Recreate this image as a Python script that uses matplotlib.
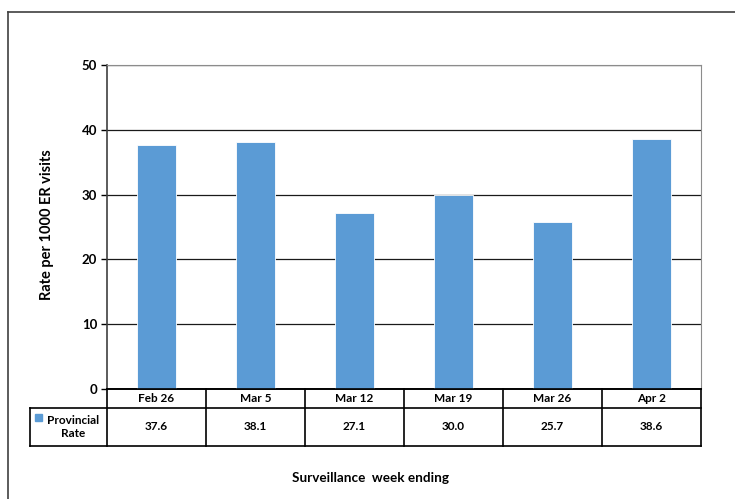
import matplotlib
matplotlib.use('Agg')
import matplotlib.pyplot as plt
from matplotlib.lines import Line2D
from matplotlib.patches import Rectangle

weeks = ['Feb 26', 'Mar 5', 'Mar 12', 'Mar 19', 'Mar 26', 'Apr 2']
rates = [37.6, 38.1, 27.1, 30.0, 25.7, 38.6]
series_name = 'Provincial\nRate'

BAR = '#5B9BD5'
W, H = 735, 499

plt.rcParams['font.family'] = ['Lato', 'DejaVu Sans']
plt.rcParams['font.weight'] = 'bold'

fig = plt.figure(figsize=(W / 100, H / 100), dpi=100)

def fx(px):
    return px / W

def fy(py):
    return 1 - py / H

# plot area in pixel coords
L, R, T, B = 107, 701, 65, 389
ax = fig.add_axes([fx(L), fy(B), fx(R - L), fy(T) - fy(B)])

x = list(range(len(weeks)))
ax.bar(x, rates, width=0.4, color=BAR, edgecolor='white', linewidth=0.6, zorder=3)
ax.set_xlim(-0.5, len(weeks) - 0.5)
ax.set_ylim(0, 50)
ax.set_yticks(range(0, 51, 10))
ax.tick_params(axis='y', labelsize=9.5, length=4, width=1, pad=3)
ax.set_xticks([])
ax.grid(axis='y', color='#1a1a1a', linewidth=0.9, zorder=0)
for s in ['top', 'right']:
    ax.spines[s].set_color('#8c8c8c')
ax.spines['left'].set_color('#404040')
ax.spines['left'].set_linewidth(1.2)
ax.spines['bottom'].set_color('black')
ax.spines['bottom'].set_linewidth(1.2)
for lab in ax.get_yticklabels():
    lab.set_fontweight('bold')

fig.text(fx(47), fy(225), 'Rate per 1000 ER visits', rotation=90,
         ha='center', va='center', fontsize=10.5, fontweight='bold')
fig.text(fx(370), fy(478), 'Surveillance  week ending',
         ha='center', va='center', fontsize=9.7, fontweight='bold')

# data table under the chart
tab = fig.add_axes([0, 0, 1, 1], facecolor='none')
tab.set_xlim(0, W)
tab.set_ylim(H, 0)
tab.axis('off')
col_w = (R - L) / len(weeks)
row1, row2, row3 = B, 408, 446
lx = 30
tab.plot([L, R], [row1, row1], color='black', lw=1.2)
tab.plot([lx, R], [row2, row2], color='black', lw=1.2)
tab.plot([lx, R], [row3, row3], color='black', lw=1.2)
tab.plot([lx, lx], [row2, row3], color='black', lw=1.2)
for i in range(len(weeks) + 1):
    cx = L + i * col_w
    tab.plot([cx, cx], [row1, row3], color='black', lw=1.2)
for i, (wk, val) in enumerate(zip(weeks, rates)):
    cx = L + (i + 0.5) * col_w
    tab.text(cx, (row1 + row2) / 2, wk, ha='center', va='center',
             fontsize=8.5, fontweight='bold')
    tab.text(cx, (row2 + row3) / 2, f'{val:.1f}', ha='center', va='center',
             fontsize=8.5, fontweight='bold')
tab.add_patch(Rectangle((35, 414), 7, 7, color=BAR))
tab.text(73, (row2 + row3) / 2, series_name, ha='center', va='center',
         fontsize=8.5, fontweight='bold', linespacing=1.3)

# outer frame
fig.add_artist(Line2D([fx(8), fx(8)], [fy(12), 0], color='#404040', lw=1.2))
fig.add_artist(Line2D([fx(8), 1], [fy(12), fy(12)], color='#404040', lw=1.2))

fig.savefig('out.png', dpi=100)
